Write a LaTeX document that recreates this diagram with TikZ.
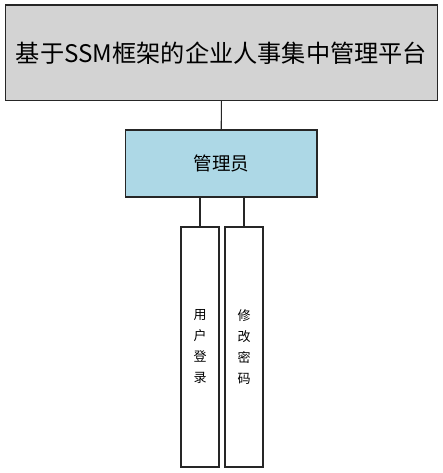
\documentclass[tikz,border=0pt]{standalone}
\usepackage{fontspec}
\setmainfont{Noto Sans CJK SC}
\usepackage{xcolor}
\usepackage{tikz}
\definecolor{boxgray}{HTML}{D3D3D3}
\definecolor{boxblue}{HTML}{ADD8E6}
\begin{document}
\begin{tikzpicture}[x=1pt, y=1pt,
		every node/.style={draw=black!85, line width=1.2pt, inner sep=0pt},
		vbox/.style={minimum width=38pt, minimum height=240pt, align=center, font=\fontsize{13pt}{21pt}\selectfont}]
			\useasboundingbox (0,0) rectangle (443,-473);
			\node[fill=boxgray, minimum width=432pt, minimum height=95.5pt, font=\fontsize{24.2pt}{30pt}\selectfont](sys) at (221.5,-52.75){基于SSM框架的企业人事集中管理平台};
			\node[fill=boxblue, minimum width=191.5pt, minimum height=67pt, font=\fontsize{18.5pt}{22pt}\selectfont](admin) at (221.25,-163.5){管理员};
			\node[vbox, fill=white](login) at (200,-347){用\\户\\登\\录};
			\node[vbox, fill=white](pwd) at (244,-347){修\\改\\密\\码};
			\draw[line width=1.2pt, black!85] (sys) -- (admin);
			\foreach \n in {login, pwd}
			{
				\draw[line width=1.2pt, black!85] (\n.north |- admin.south) -- (\n.north);
			}
		\end{tikzpicture}
\end{document}
